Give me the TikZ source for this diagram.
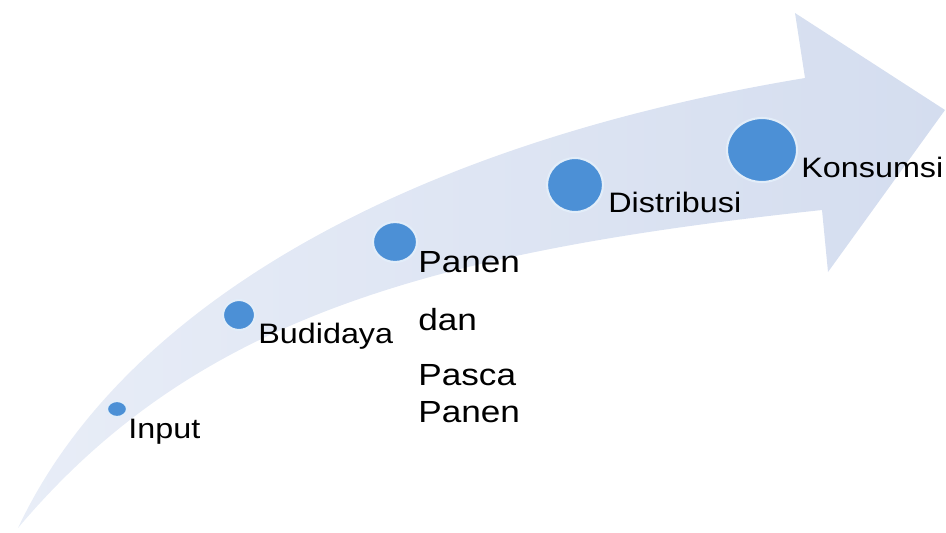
\documentclass[tikz,border=0pt]{standalone}
\usepackage{fontspec}
\setmainfont{Liberation Sans}[FakeStretch=1.15]
\usepackage{xcolor}
\usetikzlibrary{shapes.geometric}
\definecolor{bandblue}{RGB}{212,221,239}
\definecolor{bandpale}{RGB}{232,237,247}
\definecolor{dotblue}{RGB}{76,144,214}
\definecolor{dotring}{RGB}{226,237,249}

\begin{document}
\begin{tikzpicture}[x=0.02cm, y=-0.02cm,
        P node/.style={ellipse, fill=dotblue, draw=dotring, line width=1.2pt, inner sep=0pt},
        L node/.style={anchor=base west, inner sep=0pt, font=\fontsize{16}{19}\selectfont}]

    \useasboundingbox (0,0) rectangle (946,532);

    % the curved arrow
    \shade[left color=bandpale, right color=bandblue]
        (18,528) .. controls (120,310) and (400,145) .. (805,78)
        -- (795,13) -- (945,110) -- (828,272) -- (822,210)
        .. controls (430,252) and (195,318) .. (18,528) -- cycle;

    % steps
    \node[P node, minimum width=0.4cm, minimum height=0.32cm] (input) at (117,409) {};
    \node[P node, minimum width=0.64cm, minimum height=0.6cm] (budidaya) at (239,315) {};
    \node[P node, minimum width=0.88cm, minimum height=0.8cm] (panen) at (395,242) {};
    \node[P node, minimum width=1.12cm, minimum height=1.08cm] (distribusi) at (575,185) {};
    \node[P node, minimum width=1.4cm, minimum height=1.28cm] (konsumsi) at (762,150) {};

    % labels (multi-line node: base is the last line)
    \node[L node] (input label) at (128,438) {Input};
    \node[L node] (budidaya label) at (258,343) {Budidaya};
    \node[L node, align=left, font=\fontsize{17.4}{21}\selectfont] (panen label) at (418,422)
        {Panen\\[12pt]dan\\[10pt]Pasca\\Panen};
    \node[L node] (distribusi label) at (608,212) {Distribusi};
    \node[L node] (konsumsi label) at (801,177) {Konsumsi};
\end{tikzpicture}
\end{document}
